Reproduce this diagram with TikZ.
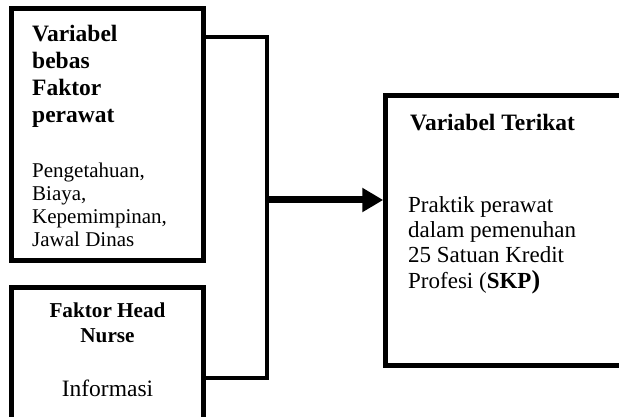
\documentclass[tikz,border=0pt]{standalone}
\usepackage{fontspec}
\setmainfont{Liberation Serif}
\usetikzlibrary{arrows.meta, positioning}

\tikzset{
  box/.style={draw, line width=4.5pt, inner sep=0pt},
  link/.style={line width=3.3pt},
  main arrow/.style={line width=7pt, -{Triangle[length=21pt,width=23pt]}},
  txt/.style={inner sep=0pt, anchor=base west, align=left}
}

\begin{document}
\begin{tikzpicture}[x=1pt, y=-1pt]
			\useasboundingbox (0,0) rectangle (619,417);
			\clip (0,0) rectangle (619,417);
			% Boxes
			\node[box, minimum width=192pt, minimum height=252pt] (faktor) at (107.5,134.5) {};
			\node[box, minimum width=192pt, minimum height=153pt] (head) at (107.5,364) {};
			\node[box, minimum width=255pt, minimum height=270pt] (terikat) at (513,230.5) {};
			% Texts (base = baseline of the last line)
			\node[txt, font=\fontsize{23.5}{27}\selectfont\bfseries] (t1) at (32,123) {Variabel\\bebas\\Faktor\\perawat};
			\node[txt, font=\fontsize{21}{23}\selectfont] (t2) at (32,246) {Pengetahuan,\\Biaya,\\Kepemimpinan,\\Jawal Dinas};
			\node[inner sep=0pt, anchor=base, align=center, font=\fontsize{21.2}{24.5}\selectfont\bfseries] (t3) at (107.5,342) {Faktor Head\\Nurse};
			\node[inner sep=0pt, anchor=base, font=\fontsize{23.5}{25}\selectfont] (t4) at (107.5,396) {Informasi};
			\node[txt, font=\fontsize{23.5}{27}\selectfont\bfseries] (t5) at (410,131) {Variabel Terikat};
			\node[txt, font=\fontsize{23}{25.3}\selectfont] (t6) at (408,288) {Praktik perawat\\dalam pemenuhan\\25 Satuan Kredit\\Profesi (\textbf{SKP}{\fontsize{26}{25.3}\selectfont\bfseries)}};
			% Connectors
			\coordinate (j1) at (267,37);
			\coordinate (j2) at (267,378);
			\coordinate (j3) at (267,200);
			\draw[link] (faktor.east |- j1) -- (j1) -- (j2) -- (head.east |- j2);
			\draw[main arrow] (j3) -- (terikat.west |- j3);
		\end{tikzpicture}
\end{document}
